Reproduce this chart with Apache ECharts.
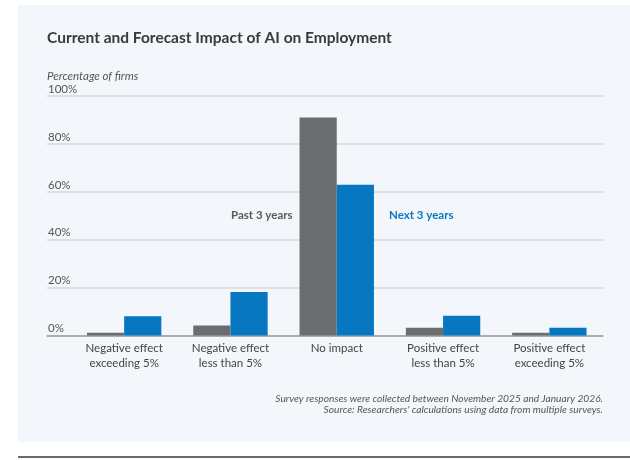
<!DOCTYPE html>
<html>
<head>
<meta charset="utf-8">
<script src="https://cdn.jsdelivr.net/npm/echarts@6/dist/echarts.min.js"></script>
<style>
  html, body { margin: 0; padding: 0; background: #fff; }
  #main { width: 630px; height: 460px; }
</style>
</head>
<body>
<div id="main"></div>
<script>
// data
var categories = ['Negative effect\nexceeding 5%', 'Negative effect\nless than 5%', 'No impact', 'Positive effect\nless than 5%', 'Positive effect\nexceeding 5%'];
var past3 = [1.1, 4.2, 91, 3.2, 1.1];
var next3 = [8.0, 18.2, 62.9, 8.2, 3.2];
var yTicks = [0, 20, 40, 60, 80, 100];

var FONT = 'Lato';
var chart = echarts.init(document.getElementById('main'), null, { renderer: 'canvas' });

var option = {
  backgroundColor: '#fff',
  animation: false,
  textStyle: { fontFamily: FONT },
  graphic: [
    // panel background
    { type: 'rect', z: -10, shape: { x: 18, y: 5, width: 612, height: 437 }, style: { fill: '#f3f6fa' } },
    { type: 'rect', z: -10, shape: { x: 18, y: 456, width: 612, height: 2 }, style: { fill: '#6a6a6a' } },
    { type: 'text', left: 47, top: 30, style: { text: 'Current and Forecast Impact of AI on Employment', font: 'bold 15.5px ' + FONT, fill: '#3a3a3c' } },
    { type: 'text', left: 47, top: 70, style: { text: 'Percentage of firms', font: 'italic 11.5px ' + FONT, fill: '#555' } },
    { type: 'text', left: 231, top: 209, style: { text: 'Past 3 years', font: 'bold 11.5px ' + FONT, fill: '#58595b' } },
    { type: 'text', left: 389, top: 209, style: { text: 'Next 3 years', font: 'bold 11.5px ' + FONT, fill: '#0877c1' } },
    { type: 'text', x: 603, y: 394, style: { text: 'Survey responses were collected between November 2025 and January 2026.', font: 'italic 10.2px ' + FONT, fill: '#555', align: 'right' } },
    { type: 'text', x: 603, y: 405, style: { text: 'Source: Researchers\' calculations using data from multiple surveys.', font: 'italic 10.2px ' + FONT, fill: '#555', align: 'right' } }
  ],
  grid: [
    { left: 47, right: 27, top: 96, bottom: 124.5 },
    { left: 71, right: 27.5, top: 96, bottom: 124.5 }
  ],
  xAxis: [
    {
      gridIndex: 0, type: 'value', min: 0, max: 1,
      axisLine: { show: true, lineStyle: { color: '#9a9a9a', width: 1.5 } },
      axisTick: { show: false }, axisLabel: { show: false }, splitLine: { show: false }
    },
    {
      gridIndex: 1, type: 'category', data: categories,
      axisLine: { show: false }, axisTick: { show: false },
      axisLabel: { color: '#444', fontSize: 11.5, lineHeight: 14.5, margin: 6, interval: 0 }
    }
  ],
  yAxis: [
    {
      gridIndex: 0, type: 'value', min: 0, max: 100, interval: 20,
      axisLine: { show: false }, axisTick: { show: false },
      axisLabel: {
        inside: true, margin: 1, color: '#555', fontSize: 11.5,
        verticalAlign: 'bottom', padding: [0, 0, 1, 0],
        formatter: function (v) { return yTicks.indexOf(v) >= 0 ? v + '%' : ''; }
      },
      splitLine: { lineStyle: { color: '#d5d9de', width: 1.5 } }
    },
    {
      gridIndex: 1, type: 'value', min: 0, max: 100, show: false
    }
  ],
  series: [
    {
      name: 'Past 3 years', type: 'bar', xAxisIndex: 1, yAxisIndex: 1,
      data: past3, barGap: 0, barCategoryGap: '30%',
      itemStyle: { color: '#6c6d70' }
    },
    {
      name: 'Next 3 years', type: 'bar', xAxisIndex: 1, yAxisIndex: 1,
      data: next3, barGap: 0, barCategoryGap: '30%',
      itemStyle: { color: '#0877c1' }
    }
  ]
};

chart.setOption(option);
</script>
</body>
</html>
